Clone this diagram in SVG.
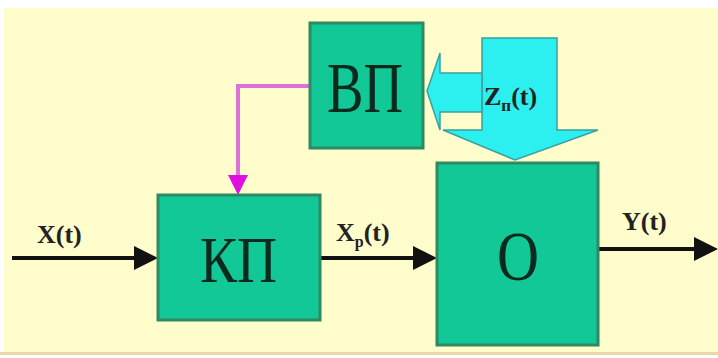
<svg xmlns="http://www.w3.org/2000/svg" width="718" height="358" viewBox="0 0 718 358">
<defs>
<style>
.box{fill:#12c896;stroke:#2e8a62;stroke-width:3}
.big{font-family:"Liberation Serif",serif;fill:#0a2a1e}
.lbl{font-family:"Liberation Serif",serif;font-weight:bold;fill:#222;font-size:26px}
.wire{stroke:#111;stroke-width:4;fill:none}
</style>
<marker id="ah" markerWidth="6" markerHeight="6" refX="5" refY="3" orient="auto" markerUnits="strokeWidth">
<path d="M0,0 L6,3 L0,6 z" fill="#111"/>
</marker>
<marker id="mh" markerWidth="5" markerHeight="5" refX="4" refY="2.5" orient="auto" markerUnits="strokeWidth">
<path d="M0,0 L5,2.5 L0,5 z" fill="#e010e0"/>
</marker>
</defs>
<rect x="0" y="0" width="718" height="358" fill="#ffffff"/>
<rect x="4" y="8" width="714" height="344" fill="#fefdcb"/>
<rect x="0" y="352" width="718" height="3" fill="#ead9a6"/>

<g id="connectors">
<path class="wire" d="M12,258 H154" marker-end="url(#ah)"/>
<path class="wire" d="M320,258 H433" marker-end="url(#ah)"/>
<path class="wire" d="M598,249 H714" marker-end="url(#ah)"/>
<path d="M310,86 H238 V191" fill="none" stroke="#e070d8" stroke-width="4" marker-end="url(#mh)"/>
</g>

<g id="noise">
<path d="M482,38 H557 V130 H598 L515,160 L443,130 H482 Z" fill="#2cf0f0" stroke="#3aa0a0" stroke-width="1.5"/>
<path d="M482,73 H440 V53 L427,91 L440,130 V112 H482 Z" fill="#2cf0f0" stroke="#3aa0a0" stroke-width="1.5"/>
<text x="484" y="105" class="lbl" font-size="27">Z<tspan font-size="17" dy="6">п</tspan><tspan dy="-6">(t)</tspan></text>
</g>

<g id="BP">
<rect class="box" x="310" y="23" width="113" height="125"/>
<text class="big" x="327" y="112" font-size="72" textLength="76" lengthAdjust="spacingAndGlyphs">ВП</text>
</g>

<g id="KP">
<rect class="box" x="158" y="195" width="162" height="125"/>
<text class="big" x="200" y="282" font-size="66" textLength="77" lengthAdjust="spacingAndGlyphs">КП</text>
</g>

<g id="O">
<rect class="box" x="437" y="163" width="161" height="182"/>
<text class="big" x="497" y="280" font-size="70" textLength="42" lengthAdjust="spacingAndGlyphs">О</text>
</g>

<g id="labels">
<text class="lbl" x="37" y="243">X(t)</text>
<text class="lbl" x="336" y="241">X<tspan font-size="16" dy="6">р</tspan><tspan dy="-6">(t)</tspan></text>
<text class="lbl" x="622" y="230">Y(t)</text>
</g>
</svg>
